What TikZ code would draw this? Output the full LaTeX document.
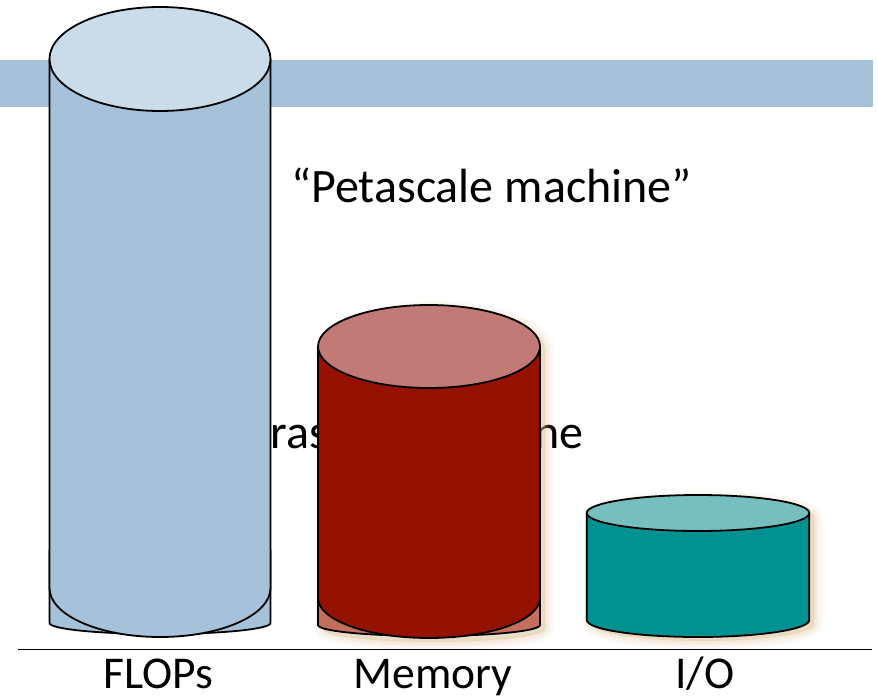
\documentclass[tikz,border=0pt]{standalone}
\usepackage{fontspec}
\setmainfont{Carlito}
\definecolor{bandblue}{RGB}{165,194,218}
\definecolor{flopsbody}{RGB}{165,194,218}
\definecolor{flopstop}{RGB}{202,220,234}
\definecolor{membody}{RGB}{149,18,0}
\definecolor{memtop}{RGB}{194,122,118}
\definecolor{memback}{RGB}{196,110,92}
\definecolor{iobody}{RGB}{0,146,145}
\definecolor{iotop}{RGB}{119,191,191}
\definecolor{glow}{RGB}{215,180,130}
\tikzset{
  outline/.style={draw=black, line width=1.8pt, line join=round},
  captiontext/.style={font=\fontsize{48}{54}\selectfont, inner sep=0pt},
  labeltext/.style={font=\fontsize{45.5}{52}\selectfont, inner sep=0pt},
  glowring/.style={draw=glow, line join=round, draw opacity=0.07, fill=glow, fill opacity=0.07},
}
\begin{document}
\begin{tikzpicture}[x=1pt, y=-1pt]
  \useasboundingbox (0,0) rectangle (878,698);
  % title band
  \fill[bandblue] (0,60) rectangle (873,107.5);

  % captions inside the chart
  \node[captiontext, anchor=base west] (peta) at (291,202) {“Petascale machine”};
  \node[captiontext, anchor=base east] (tera) at (584,448) {Terascale machine};

  % FLOPs cylinder: flat back part, then the tall cylinder
  \path[outline, fill=flopsbody]
    (49.5,550) -- (49.5,623)
    arc[start angle=180, end angle=0, x radius=110.5, y radius=11] -- (270.5,550) -- cycle;
  \path[outline, fill=flopsbody]
    (49.5,59) -- (49.5,588)
    arc[start angle=180, end angle=0, x radius=110.5, y radius=49] -- (270.5,59) -- cycle;
  \path[outline, fill=flopstop] (160,59) ellipse[x radius=110.5, y radius=52];

  % soft glow behind the Memory and I/O cylinders
  \foreach \w in {16,12,8,5,2} {
    \path[glowring, line width=\w pt, xshift=5pt, yshift=-4pt]
      (318,346.5) -- (318,625)
      arc[start angle=180, end angle=0, x radius=111, y radius=13] -- (540,346.5)
      arc[start angle=0, end angle=-180, x radius=111, y radius=41.5] -- cycle;
    \path[glowring, line width=\w pt, xshift=5pt, yshift=-4pt]
      (586.7,513) -- (586.7,620)
      arc[start angle=180, end angle=0, x radius=111.3, y radius=17] -- (809.3,513)
      arc[start angle=0, end angle=-180, x radius=111.3, y radius=18] -- cycle;
  }

  % Memory cylinder
  \path[outline, fill=memback]
    (318,560) -- (318,625)
    arc[start angle=180, end angle=0, x radius=111, y radius=11] -- (540,560) -- cycle;
  \path[outline, fill=membody]
    (318,346.5) -- (318,598)
    arc[start angle=180, end angle=0, x radius=111, y radius=40] -- (540,346.5) -- cycle;
  \path[outline, fill=memtop] (429,346.5) ellipse[x radius=111, y radius=41.5];

  % I/O cylinder
  \path[outline, fill=iobody]
    (586.7,513) -- (586.7,620)
    arc[start angle=180, end angle=0, x radius=111.3, y radius=17] -- (809.3,513) -- cycle;
  \path[outline, fill=iotop] (698,513) ellipse[x radius=111.3, y radius=18];

  % axis line and column labels
  \coordinate (axisL) at (18,649.3);
  \coordinate (axisR) at (872,649.3);
  \draw[line width=1.5pt] (axisL) -- (axisR);
  \node[labeltext, anchor=base] (flops) at (158,688) {FLOPs};
  \node[labeltext, anchor=base] (mem) at (433,688) {Memory};
  \node[labeltext, anchor=base] (io) at (705,688) {I/O};
\end{tikzpicture}
\end{document}
